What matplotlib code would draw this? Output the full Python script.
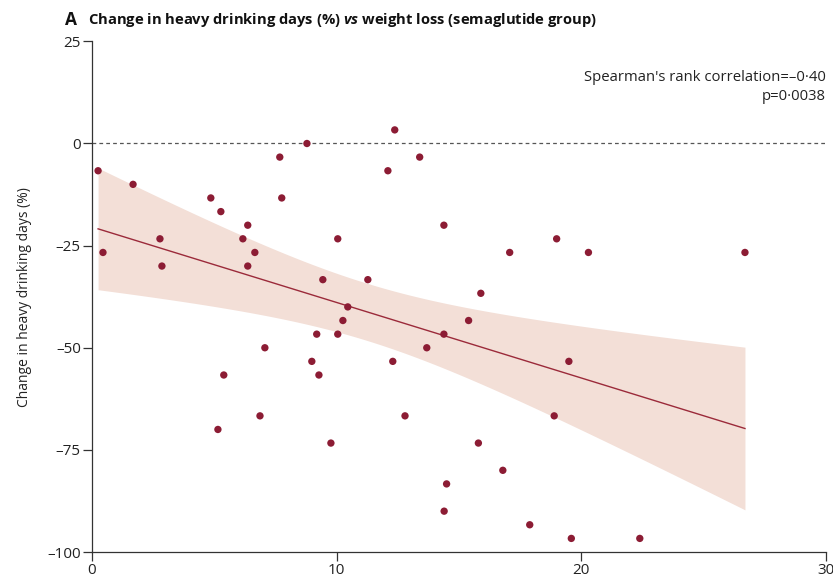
import numpy as np
import matplotlib
matplotlib.use("Agg")
import matplotlib.pyplot as plt

# Weight loss (%) and change in heavy drinking days (%) per participant
weight_loss = [0.25, 0.45, 1.68, 2.78, 2.86, 4.86, 5.27, 5.39, 5.15, 6.17,
               6.37, 6.37, 6.66, 6.87, 7.07, 7.68, 7.76, 8.79, 8.99, 9.19,
               9.28, 9.44, 9.77, 10.05, 10.05, 10.26, 10.46, 11.28, 12.1, 12.3,
               12.38, 12.8, 13.4, 13.69, 14.39, 14.39, 15.4, 15.9, 17.08, 18.9,
               19.0, 19.5, 20.3, 26.7, 15.8, 16.8, 14.5, 14.4, 17.9, 19.6, 22.4]
hdd_change = [-6.67, -26.67, -10, -23.33, -30, -13.33, -16.67, -56.67, -70, -23.33,
              -20, -30, -26.67, -66.67, -50, -3.33, -13.33, 0, -53.33, -46.67,
              -56.67, -33.33, -73.33, -46.67, -23.33, -43.33, -40, -33.33, -6.67, -53.33,
              3.33, -66.67, -3.33, -50, -20, -46.67, -43.33, -36.67, -26.67, -66.67,
              -23.33, -53.33, -26.67, -26.67, -73.33, -80, -83.33, -90, -93.33, -96.67, -96.67]

x_ticks = [0, 10, 20, 30]
y_ticks = [25, 0, -25, -50, -75, -100]

x = np.array(weight_loss)
y = np.array(hdd_change)

# Ordinary least squares fit with 95% confidence band
n = len(x)
slope, intercept = np.polyfit(x, y, 1)
resid = y - (intercept + slope * x)
s = np.sqrt(np.sum(resid ** 2) / (n - 2))
xbar = x.mean()
sxx = np.sum((x - xbar) ** 2)
t_crit = 2.01
xs = np.linspace(x.min(), x.max(), 200)
ys = intercept + slope * xs
se = s * np.sqrt(1 / n + (xs - xbar) ** 2 / sxx)

plt.rcParams['font.family'] = ['Open Sans', 'DejaVu Sans']
plt.rcParams['mathtext.fontset'] = 'custom'
plt.rcParams['mathtext.it'] = 'Open Sans:italic:bold'
plt.rcParams['mathtext.rm'] = 'Open Sans:bold'
font = 'Open Sans'

fig = plt.figure(figsize=(8.33, 5.77), dpi=100)
ax = fig.add_axes([0.1104, 0.0433, 0.8808, 0.885])

ax.fill_between(xs, ys - t_crit * se, ys + t_crit * se, color='#f3dfd7', lw=0, zorder=1)
ax.plot(xs, ys, color='#9b2a3a', lw=1.0, zorder=2)
ax.axhline(0, color='#555555', lw=0.9, ls=(0, (3, 2.5)), zorder=1)
ax.scatter(x, y, s=28, color='#8c1c34', edgecolors='none', zorder=3)

ax.set_xlim(0, 30)
ax.set_ylim(-100, 25)
ax.set_xticks(x_ticks)
ax.set_yticks(y_ticks)
ax.set_xticklabels([str(v) for v in x_ticks], fontname=font, fontsize=11, color='#222222')
ax.set_yticklabels([str(v).replace('-', '\u2013') for v in y_ticks], fontname=font, fontsize=11, color='#222222')
ax.tick_params(axis='both', length=6.5, width=0.9, color='#333333', pad=1.5)
for side in ['top', 'right']:
    ax.spines[side].set_visible(False)
for side in ['left', 'bottom']:
    ax.spines[side].set_color('#333333')
    ax.spines[side].set_linewidth(0.9)

ax.set_ylabel('Change in heavy drinking days (%)', fontname=font, fontsize=10, color='#222222', labelpad=11)

ax.text(1.0, 0.91, "Spearman's rank correlation=\u20130\u00b740\np=0\u00b70038",
        transform=ax.transAxes, ha='right', va='center', fontname=font, fontsize=10.7,
        color='#222222', linespacing=1.35)

fig.text(0.078, 0.965, 'A', fontname=font, fontsize=12.5, fontweight='bold', color='#111111', va='center')
fig.text(0.106, 0.965, r'Change in heavy drinking days (%) $\mathit{vs}$ weight loss (semaglutide group)',
         fontname=font, fontsize=10.6, fontweight='bold', color='#111111', va='center')

fig.savefig('out.png', dpi=100)
